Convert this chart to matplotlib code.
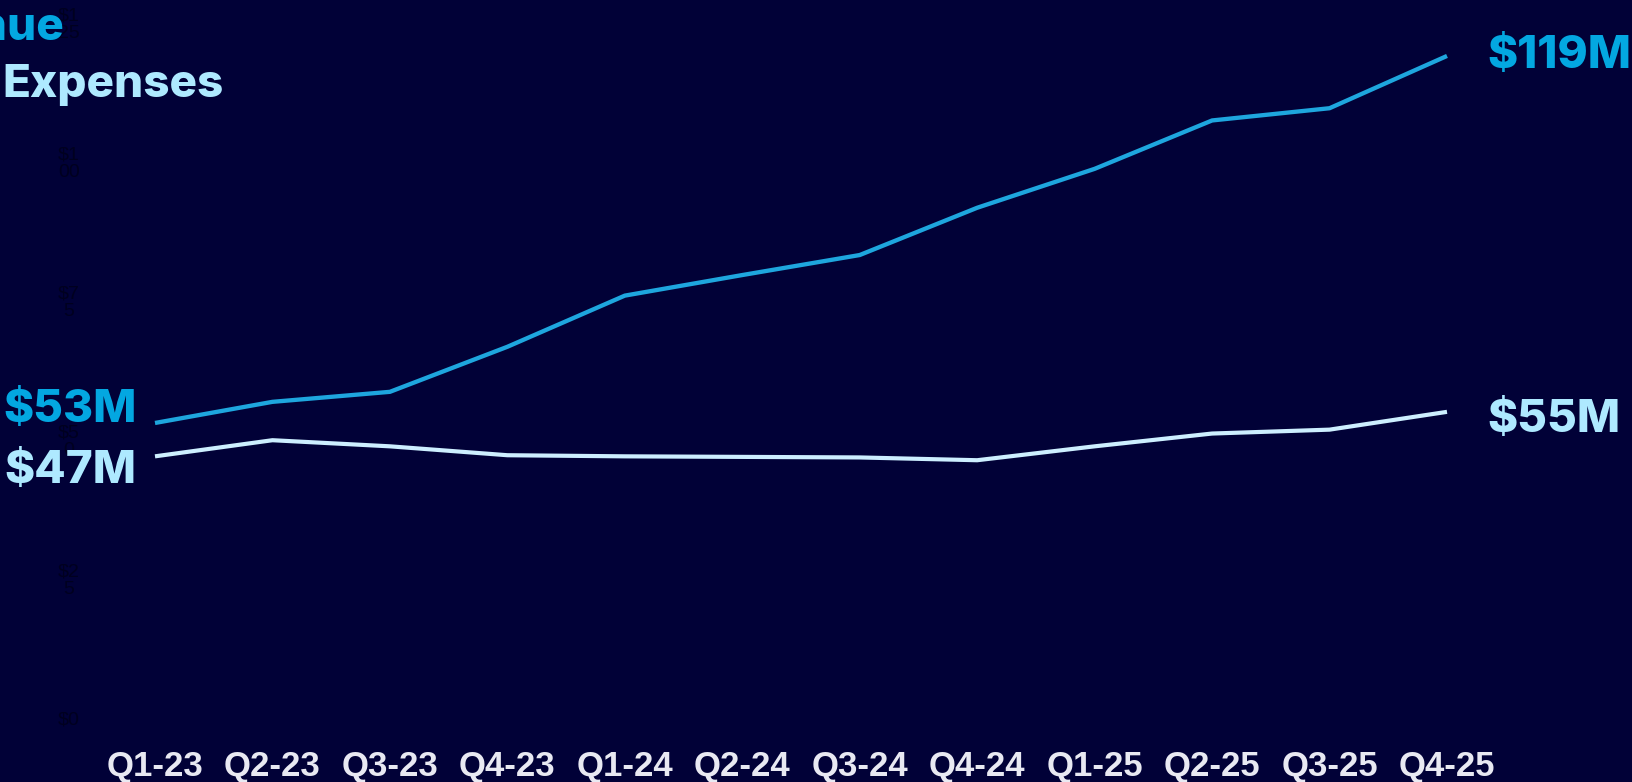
import matplotlib.pyplot as plt

quarters = ["Q1-23", "Q2-23", "Q3-23", "Q4-23", "Q1-24", "Q2-24",
            "Q3-24", "Q4-24", "Q1-25", "Q2-25", "Q3-25", "Q4-25"]
revenue = [53, 56.8, 58.6, 66.7, 75.9, 79.6, 83.2, 91.7, 98.7, 107.4, 109.6, 119]
expenses = [47, 49.9, 48.8, 47.2, 47.0, 46.9, 46.8, 46.3, 48.8, 51.1, 51.8, 55]
y_ticks = [0, 25, 50, 75, 100, 125]
y_tick_labels = ["$0", "$2\n5", "$5\n0", "$7\n5", "$1\n00", "$1\n25"]

BG = "#010137"
REV_LINE = "#1ea6de"
EXP_LINE = "#cdefff"
REV_TEXT = "#03a7e1"
EXP_TEXT = "#aee9ff"

W, H = 1633, 782
fig = plt.figure(figsize=(W / 100, H / 100), dpi=100, facecolor=BG)

# axes placed in pixel terms: x from 155 to 1447, y zero at 717.7 px from top
ax = fig.add_axes([155 / W, (H - 717.7) / H, 1292 / W, 711.8 / H])
ax.set_facecolor(BG)
ax.set_xlim(0, len(quarters) - 1)
ax.set_ylim(0, 128)

x = range(len(quarters))
ax.plot(x, revenue, color=REV_LINE, lw=3.1, solid_capstyle="butt", clip_on=False)
ax.plot(x, expenses, color=EXP_LINE, lw=3.0, solid_capstyle="butt", clip_on=False)

for s in ax.spines.values():
    s.set_visible(False)

ax.set_xticks(list(x))
ax.set_xticklabels(quarters, fontsize=25, fontweight="bold", color="#e8e9f2",
                   family="Liberation Sans")
ax.set_yticks(y_ticks)
ax.set_yticklabels(y_tick_labels, fontsize=14, color="#00001f",
                   family="Liberation Sans", ha="center", linespacing=1.0)
ax.tick_params(axis="x", length=0, pad=23)
ax.tick_params(axis="y", length=0, pad=62)

big = dict(family="Inter", fontweight="heavy", fontsize=33, va="center", ha="left")

def end_label(value, xpix, dy, color):
    ax.annotate(f"${value:.0f}M", xy=(xpix / W, value),
                xycoords=("figure fraction", "data"),
                xytext=(0, dy), textcoords="offset pixels",
                color=color, annotation_clip=False, **big)

end_label(revenue[0], 3, 13, REV_TEXT)
end_label(expenses[0], 4, -15, EXP_TEXT)
end_label(revenue[-1], 1487, 0, REV_TEXT)
end_label(expenses[-1], 1487, -8, EXP_TEXT)

# series names in the top-left corner
fig.text(64 / W, 1 - 40 / H, "Revenue", color=REV_TEXT, family="Inter",
         fontweight="heavy", fontsize=33, ha="right", va="baseline")
fig.text(2 / W, 1 - 97 / H, "Expenses", color=EXP_TEXT, family="Inter",
         fontweight="heavy", fontsize=33, ha="left", va="baseline")

fig.savefig("out.png", dpi=100, facecolor=BG)
